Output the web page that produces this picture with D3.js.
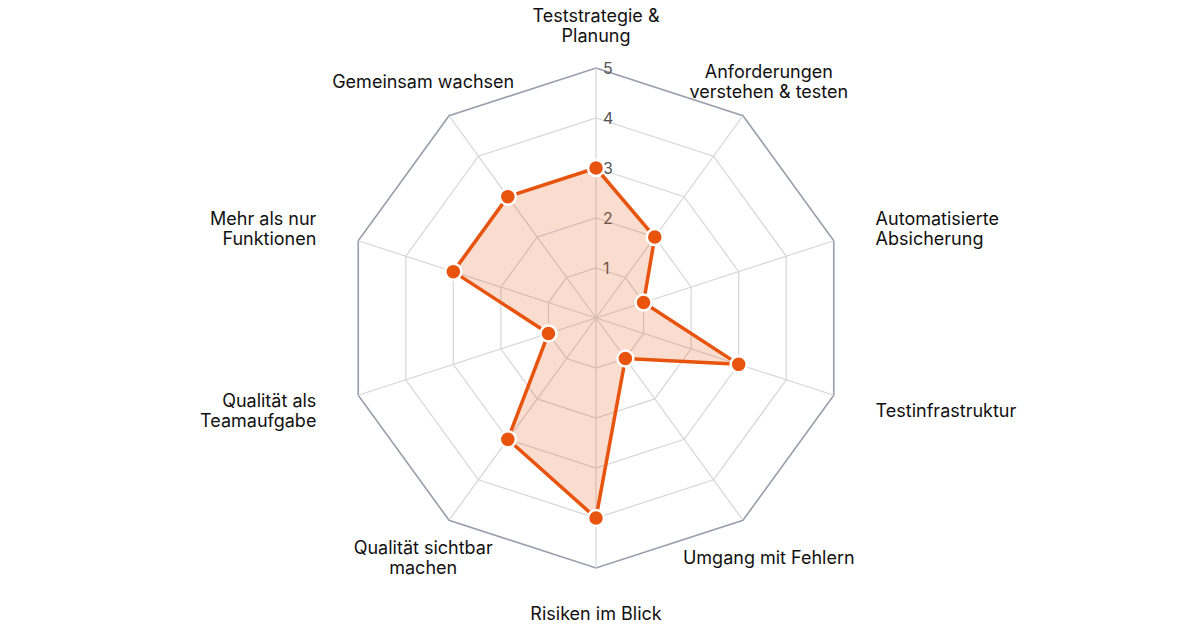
<!DOCTYPE html>
<html>
<head>
<meta charset="utf-8">
<script src="https://cdn.jsdelivr.net/npm/d3@7"></script>
<style>
  html, body { margin: 0; padding: 0; background: #fff; }
  svg { display: block; font-family: Inter, "Open Sans", sans-serif; }
</style>
</head>
<body>
<svg id="chart" width="1200" height="630"></svg>
<script>
// axis labels, clockwise from top (multi-line via \n)
const categories = [
    "Teststrategie &\nPlanung",
    "Anforderungen\nverstehen & testen",
    "Automatisierte\nAbsicherung",
    "Testinfrastruktur",
    "Umgang mit Fehlern",
    "Risiken im Blick",
    "Qualität sichtbar\nmachen",
    "Qualität als\nTeamaufgabe",
    "Mehr als nur\nFunktionen",
    "Gemeinsam wachsen"
];
const values = [3, 2, 1, 3, 1, 4, 3, 1, 3, 3];
const tickLabels = [1, 2, 3, 4, 5];

const width = 1200, height = 630;
const cx = 596, cy = 318;
const R = 250;
const n = categories.length;

const svg = d3.select("#chart");
const g = svg.append("g").attr("transform", `translate(${cx},${cy})`);

const r = d3.scaleLinear().domain([0, 5]).range([0, R]);
const angle = d3.scaleLinear().domain([0, n]).range([0, 2 * Math.PI]);

function pt(i, v) {
    const a = angle(i);
    return [Math.sin(a) * r(v), -Math.cos(a) * r(v)];
}

const ring = d3.line().curve(d3.curveLinearClosed);

// rings
g.selectAll("path.ring")
    .data(tickLabels)
    .join("path")
    .attr("class", "ring")
    .attr("d", t => ring(d3.range(n).map(i => pt(i, t))))
    .attr("fill", "none")
    .attr("stroke", t => t === 5 ? "#9a9dab" : "#d6d6da")
    .attr("stroke-width", t => t === 5 ? 1.6 : 1.2);

// spokes
g.selectAll("line.spoke")
    .data(d3.range(n))
    .join("line")
    .attr("class", "spoke")
    .attr("x1", 0).attr("y1", 0)
    .attr("x2", i => pt(i, 5)[0])
    .attr("y2", i => pt(i, 5)[1])
    .attr("stroke", "#d6d6da")
    .attr("stroke-width", 1.2);

// tick labels on top axis
g.selectAll("text.tick")
    .data(tickLabels)
    .join("text")
    .attr("class", "tick")
    .attr("x", 7)
    .attr("y", t => -r(t))
    .attr("dy", "0.35em")
    .attr("font-size", 16)
    .attr("fill", "#555")
    .text(t => t);

// data area
const pts = values.map((v, i) => pt(i, v));
g.append("path")
    .attr("d", ring(pts))
    .attr("fill", "#e8530e")
    .attr("fill-opacity", 0.2)
    .attr("stroke", "#e8530e")
    .attr("stroke-width", 3.5)
    .attr("stroke-linejoin", "round");

g.selectAll("circle.dot")
    .data(pts)
    .join("circle")
    .attr("class", "dot")
    .attr("cx", d => d[0])
    .attr("cy", d => d[1])
    .attr("r", 8)
    .attr("fill", "#e8530e")
    .attr("stroke", "#fff")
    .attr("stroke-width", 2.5);

// axis labels
const labelR = R + 44;
const lineH = 20;
const lab = g.selectAll("text.label")
    .data(categories)
    .join("text")
    .attr("class", "label")
    .attr("font-size", 18)
    .attr("fill", "#111")
    .attr("text-anchor", (d, i) => {
        const s = Math.sin(angle(i));
        if (Math.abs(s) < 0.7) return "middle";
        return s > 0 ? "start" : "end";
    })
    .attr("transform", (d, i) => {
        const a = angle(i);
        const x = Math.sin(a) * labelR, y = -Math.cos(a) * labelR + 1.5;
        return `translate(${x},${y})`;
    });

lab.each(function (d) {
    const lines = d.split("\n");
    const el = d3.select(this);
    lines.forEach((l, k) => {
        el.append("tspan")
            .attr("x", 0)
            .attr("y", (k - (lines.length - 1) / 2) * lineH)
            .attr("dy", "0.35em")
            .text(l);
    });
});
</script>
</body>
</html>
